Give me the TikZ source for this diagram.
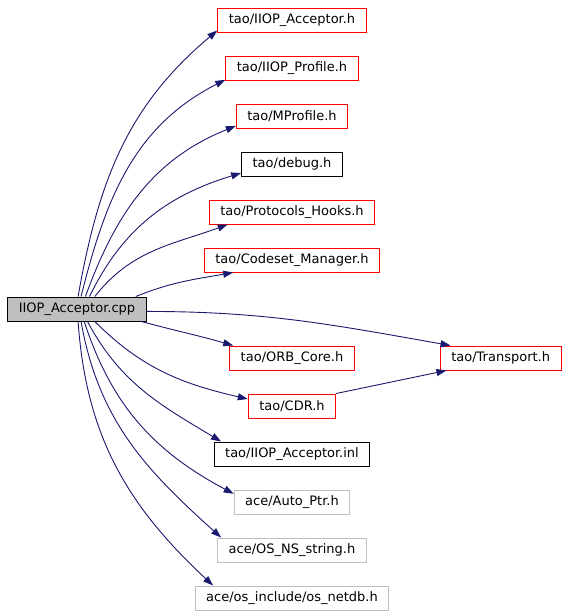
\documentclass[tikz,border=0pt]{standalone}
\usepackage{fontspec}
\setmainfont{DejaVu Sans}
\usetikzlibrary{positioning,arrows.meta}
\definecolor{edgeblue}{HTML}{191970}
\definecolor{hdrred}{HTML}{FF0000}
\definecolor{hdrgray}{HTML}{BFBFBF}
\tikzset{
  hdr/.style={draw=hdrred, line width=1pt, minimum height=24pt, inner xsep=11pt, inner ysep=0pt,
    font=\fontsize{13}{15}\selectfont},
  hdrok/.style={hdr, draw=black},
  hdrext/.style={hdr, draw=hdrgray},
  edge/.style={draw=edgeblue, line width=0.9pt, -{Triangle[length=10pt,width=7pt]}}
}
\begin{document}
\begin{tikzpicture}[x=1pt,y=1pt]
  \useasboundingbox (0,0) rectangle (568,-616);
  \node[hdrok, fill=hdrgray] (root) at (77,-309) {IIOP\_Acceptor.cpp};
  \node[hdr] (acc) at (292,-20) {tao/IIOP\_Acceptor.h};
  \node[hdr, below=23pt of acc] (prof) {tao/IIOP\_Profile.h};
  \node[hdr, below=23pt of prof] (mprof) {tao/MProfile.h};
  \node[hdrok, below=23pt of mprof] (debug) {tao/debug.h};
  \node[hdr, below=23pt of debug] (hooks) {tao/Protocols\_Hooks.h};
  \node[hdr, below=23pt of hooks] (codeset) {tao/Codeset\_Manager.h};
  \node[hdr, below=73pt of codeset] (orb) {tao/ORB\_Core.h};
  \node[hdr, right=85pt of orb] (transport) {tao/Transport.h};
  \node[hdr, below=23pt of orb] (cdr) {tao/CDR.h};
  \node[hdrok, below=23pt of cdr] (inl) {tao/IIOP\_Acceptor.inl};
  \node[hdrext, below=23pt of inl] (autoptr) {ace/Auto\_Ptr.h};
  \node[hdrext, below=23pt of autoptr] (nsstring) {ace/OS\_NS\_string.h};
  \node[hdrext, below=23pt of nsstring] (netdb) {ace/os\_include/os\_netdb.h};
  % includes of the .cpp file
  \draw[edge] (root.85) to[out=80,in=220] (acc.188);
  \draw[edge] (root.72) to[out=76,in=207] (prof.190);
  \draw[edge] (root.56) to[out=70,in=202] (mprof.190);
  \draw[edge] (root.45) to[out=64,in=197] (debug.190);
  \draw[edge] (root.35) to[out=52,in=200] (hooks.191);
  \draw[edge] (root.12) to[out=22,in=190] (codeset.192);
  \draw[edge] (root.-2) to[out=0,in=170] (transport.166);
  \draw[edge] (root.-11) to[out=-15,in=164] (orb.168);
  \draw[edge] (root.-35) to[out=-45,in=167] (cdr.171);
  \draw[edge] (root.-50) to[out=-62,in=149] (inl.170);
  \draw[edge] (root.-60) to[out=-72,in=152] (autoptr.172);
  \draw[edge] (root.-72) to[out=-80,in=138] (nsstring.170);
  \draw[edge] (root.-85) to[out=-86,in=137] (netdb.171);
  \draw[edge] (cdr.north east) -- (transport.193);
\end{tikzpicture}
\end{document}
